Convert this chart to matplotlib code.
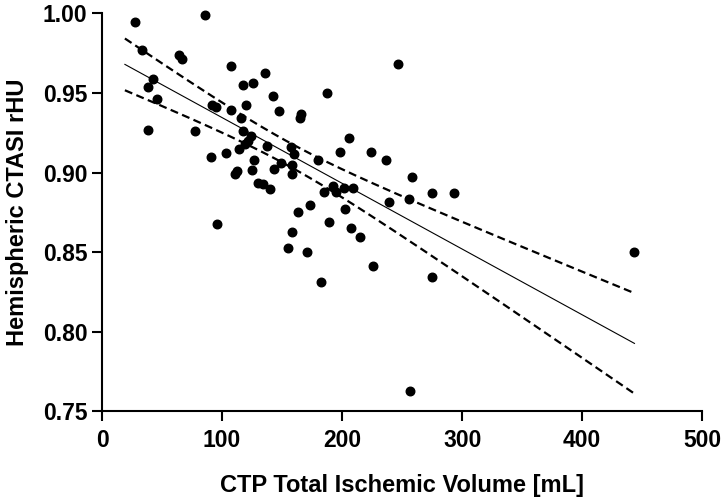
import numpy as np
import matplotlib.pyplot as plt

# volume [mL] and rHU
volume = [27.4, 85.5, 33.2, 64.0, 66.7, 42.6, 37.9, 45.4, 38.5, 77.2,
          107.4, 135.4, 117.4, 125.7, 142.0, 91.4, 94.7, 120.2, 147.0, 107.7,
          165.3, 165.0, 116.0, 117.4, 124.3, 121.6, 118.8, 114.0, 137.3, 157.5,
          159.8, 90.5, 103.0, 126.2, 149.2, 142.9, 157.8, 157.8, 110.5, 112.0,
          124.8, 129.8, 133.7, 139.5, 180.2, 198.0, 224.3, 236.4, 192.4, 184.6,
          194.9, 201.3, 209.3, 239.2, 172.8, 163.4, 202.7, 96.1, 189.0, 207.0,
          214.8, 157.8, 154.8, 170.5, 225.9, 182.5, 246.1, 187.7, 205.6, 258.0,
          274.7, 293.2, 255.8, 275.2, 256.6, 443.5]
rhu = [0.9947, 0.999, 0.977, 0.974, 0.9714, 0.959, 0.954, 0.946, 0.927, 0.926,
       0.967, 0.9626, 0.9549, 0.9566, 0.948, 0.9427, 0.9412, 0.9423, 0.939, 0.9395,
       0.937, 0.934, 0.9343, 0.926, 0.9227, 0.920, 0.918, 0.9147, 0.9166, 0.916,
       0.9114, 0.9097, 0.912, 0.9076, 0.9062, 0.9024, 0.9045, 0.8992, 0.8992, 0.901,
       0.9013, 0.8933, 0.8931, 0.8898, 0.9076, 0.9128, 0.9127, 0.9076, 0.8917, 0.8877,
       0.8877, 0.8904, 0.8904, 0.8818, 0.8797, 0.8749, 0.8768, 0.8675, 0.869, 0.865,
       0.8593, 0.8629, 0.8524, 0.8499, 0.8413, 0.8314, 0.9685, 0.95, 0.9219, 0.8971,
       0.887, 0.887, 0.8833, 0.8341, 0.7628, 0.8499]

# regression line as drawn in the figure (ends)
fit_range = [19, 443.5]
fit_ends = [0.968, 0.7926]

x = np.array(volume)
y = np.array(rhu)
n = len(x)

slope = (fit_ends[1] - fit_ends[0]) / (fit_range[1] - fit_range[0])
intercept = fit_ends[0] - slope * fit_range[0]

# 95% confidence band, spread taken from the points
b1, b0 = np.polyfit(x, y, 1)
s = np.sqrt(np.sum((y - (b1 * x + b0)) ** 2) / (n - 2))
xm = x.mean()
sxx = np.sum((x - xm) ** 2)
t_val = 1.993

xx = np.linspace(fit_range[0], fit_range[1], 200)
yy = slope * xx + intercept
half = t_val * s * np.sqrt(1 / n + (xx - xm) ** 2 / sxx)

plt.rcParams['font.family'] = ['Liberation Sans', 'DejaVu Sans']

fig = plt.figure(figsize=(7.24, 4.99), dpi=100)
ax = fig.add_axes([0.141, 0.176, 0.829, 0.797])

ax.plot(xx, yy, color='black', lw=0.8)
ax.plot(xx, yy + half, color='black', lw=1.6, dashes=(3.6, 2.0))
ax.plot(xx, yy - half, color='black', lw=1.6, dashes=(3.6, 2.0))
ax.scatter(x, y, s=38, color='black', zorder=3, clip_on=False)

ax.set_xlim(0, 500)
ax.set_ylim(0.75, 1.00)
ax.set_xticks([0, 100, 200, 300, 400, 500])
ax.set_yticks([0.75, 0.80, 0.85, 0.90, 0.95, 1.00])
ax.set_yticklabels(['0.75', '0.80', '0.85', '0.90', '0.95', '1.00'])

for side in ['top', 'right']:
    ax.spines[side].set_visible(False)
for side in ['left', 'bottom']:
    ax.spines[side].set_linewidth(1.5)
ax.tick_params(width=1.5, length=7.5, labelsize=16.5, pad=3)
ax.tick_params(axis='x', pad=5)
for lab in ax.get_xticklabels() + ax.get_yticklabels():
    lab.set_fontweight('bold')

ax.set_xlabel('CTP Total Ischemic Volume [mL]', fontsize=17, fontweight='bold', labelpad=16)
ax.set_ylabel('Hemispheric CTASI rHU', fontsize=17, fontweight='bold', labelpad=10)

fig.savefig('out.png', dpi=100)
